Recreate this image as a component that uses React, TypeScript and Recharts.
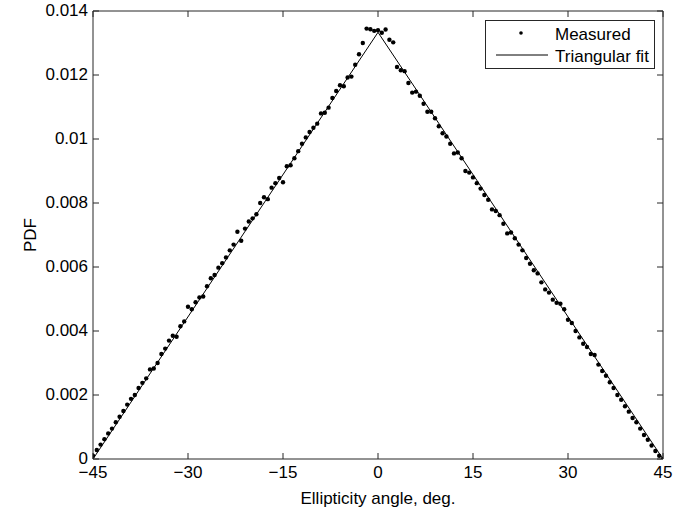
import { ComposedChart, Scatter, Line, XAxis, YAxis, Legend } from "recharts"

// ellipticity angle bins (deg.)
const angles = [
    -45, -44.4, -43.8, -43.2, -42.6, -42, -41.4, -40.8, -40.2, -39.6,
    -39, -38.4, -37.8, -37.2, -36.6, -36, -35.4, -34.8, -34.2, -33.6,
    -33, -32.4, -31.8, -31.2, -30.6, -30, -29.4, -28.8, -28.2, -27.6,
    -27, -26.4, -25.8, -25.2, -24.6, -24, -23.4, -22.8, -22.2, -21.6,
    -21, -20.4, -19.8, -19.2, -18.6, -18, -17.4, -16.8, -16.2, -15.6,
    -15, -14.4, -13.8, -13.2, -12.6, -12, -11.4, -10.8, -10.2, -9.6,
    -9, -8.4, -7.8, -7.2, -6.6, -6, -5.4, -4.8, -4.2, -3.6,
    -3, -2.4, -1.8, -1.2, -0.6, 0,
    0.6, 1.2, 1.8, 2.4, 3, 3.6, 4.2, 4.8, 5.4, 6,
    6.6, 7.2, 7.8, 8.4, 9, 9.6, 10.2, 10.8, 11.4, 12,
    12.6, 13.2, 13.8, 14.4, 15, 15.6, 16.2, 16.8, 17.4, 18,
    18.6, 19.2, 19.8, 20.4, 21, 21.6, 22.2, 22.8, 23.4, 24,
    24.6, 25.2, 25.8, 26.4, 27, 27.6, 28.2, 28.8, 29.4, 30,
    30.6, 31.2, 31.8, 32.4, 33, 33.6, 34.2, 34.8, 35.4, 36,
    36.6, 37.2, 37.8, 38.4, 39, 39.6, 40.2, 40.8, 41.4, 42,
    42.6, 43.2, 43.8, 44.4, 45,
]

// measured PDF per bin
const measured = [
    0.0001, 0.00028, 0.00045, 0.00062, 0.0008, 0.00095, 0.00115, 0.00132, 0.0015, 0.0017,
    0.00188, 0.002, 0.00222, 0.00238, 0.00252, 0.0028, 0.00283, 0.003, 0.00328, 0.00345,
    0.0037, 0.00385, 0.00382, 0.00415, 0.0043, 0.00476, 0.00468, 0.0049, 0.00505, 0.00508,
    0.0054, 0.00565, 0.00575, 0.00598, 0.00612, 0.0063, 0.00652, 0.0067, 0.0071, 0.00682,
    0.0072, 0.00742, 0.00752, 0.00765, 0.008, 0.00818, 0.00812, 0.00848, 0.00862, 0.00878,
    0.00865, 0.00915, 0.00918, 0.0094, 0.00962, 0.00985, 0.01005, 0.01022, 0.01035, 0.01048,
    0.0108, 0.01082, 0.01098, 0.01128, 0.0115, 0.01168, 0.01165, 0.01192, 0.01195, 0.01232,
    0.01265, 0.013, 0.01345, 0.01343, 0.01338, 0.0134,
    0.01332, 0.01342, 0.0131, 0.01302, 0.01225, 0.01215, 0.01212, 0.01175, 0.01145, 0.01148,
    0.01135, 0.0111, 0.01085, 0.01085, 0.01065, 0.0104, 0.01018, 0.01008, 0.00985, 0.00955,
    0.00958, 0.0094, 0.009, 0.00895, 0.0088, 0.00862, 0.00845, 0.00825, 0.0081, 0.0078,
    0.00775, 0.00762, 0.00735, 0.00705, 0.00708, 0.0069, 0.0067, 0.00652, 0.00628, 0.0061,
    0.0059, 0.0058, 0.00552, 0.0053, 0.0052, 0.00498, 0.00488, 0.00485, 0.00468, 0.00435,
    0.00425, 0.004, 0.0038, 0.0036, 0.0035, 0.00328, 0.00325, 0.00295, 0.00275, 0.0026,
    0.0024, 0.00222, 0.002, 0.00185, 0.00165, 0.00148, 0.00128, 0.00115, 0.00095, 0.00075,
    0.0006, 0.00042, 0.00025, 0.0001, 0,
]

// triangular fit corners
const fitAngles = [-45, 0, 45]
const fitValues = [0, 0.013333, 0]

const xTicks = [-45, -30, -15, 0, 15, 30, 45]
const yTicks = [0, 0.002, 0.004, 0.006, 0.008, 0.01, 0.012, 0.014]

const FONT = "'Liberation Sans', Arial, Helvetica, sans-serif"
const AXIS = "#262626"
const TICK_LEN = 6

const fmtX = (v: number) => (v < 0 ? "\u2212" + Math.abs(v) : String(v))
const fmtY = (v: number) => (v === 0 ? "0" : String(Number(v.toFixed(3))))

function makeTick(side: "bottom" | "top" | "left" | "right") {
    return (props: any) => {
        const { x, y, payload } = props
        if (side === "bottom") {
            return (
                <g>
                    <line x1={x} x2={x} y1={y} y2={y - TICK_LEN} stroke={AXIS} />
                    <text x={x} y={y + 19} textAnchor="middle" fontSize={17} fontFamily={FONT} fill="#000">
                        {fmtX(payload.value)}
                    </text>
                </g>
            )
        }
        if (side === "top") {
            return <line x1={x} x2={x} y1={y} y2={y + TICK_LEN} stroke={AXIS} />
        }
        if (side === "left") {
            return (
                <g>
                    <line x1={x} x2={x + TICK_LEN} y1={y} y2={y} stroke={AXIS} />
                    <text x={x - 5} y={y + 5} textAnchor="end" fontSize={17} fontFamily={FONT} fill="#000">
                        {fmtY(payload.value)}
                    </text>
                </g>
            )
        }
        return <line x1={x} x2={x - TICK_LEN} y1={y} y2={y} stroke={AXIS} />
    }
}

function LegendBox() {
    return (
        <svg width={170} height={49} style={{ display: "block" }}>
            <rect x={0.5} y={0.5} width={169} height={48} fill="#fff" stroke={AXIS} />
            <circle cx={36} cy={13} r={1.8} fill="#000" />
            <text x={70} y={20} fontSize={17} fontFamily={FONT} fill="#000">Measured</text>
            <line x1={11} x2={63} y1={35} y2={35} stroke="#000" />
            <text x={70} y={42} fontSize={17} fontFamily={FONT} fill="#000">Triangular fit</text>
        </svg>
    )
}

export default function App() {
    const points = angles.map((a, i) => ({ x: a, y: measured[i] }))
    const fit = fitAngles.map((a, i) => ({ x: a, y: fitValues[i] }))

    return (
        <div style={{ position: "absolute", left: 0, top: 0, width: 698, height: 512, background: "#fff" }}>
            <ComposedChart width={698} height={512} margin={{ top: 10, right: 34, left: 33, bottom: 13 }}>
                <XAxis
                    dataKey="x"
                    type="number"
                    domain={[-45, 45]}
                    ticks={xTicks}
                    allowDataOverflow
                    height={40}
                    stroke={AXIS}
                    tickSize={0}
                    tickMargin={0}
                    tickLine={false}
                    tick={makeTick("bottom")}
                    interval={0}
                    label={{
                        content: () => (
                            <text x={378} y={504} textAnchor="middle" fontSize={17} fontFamily={FONT} fill="#000">
                                Ellipticity angle, deg.
                            </text>
                        ),
                    }}
                />
                <XAxis
                    xAxisId="top"
                    orientation="top"
                    dataKey="x"
                    type="number"
                    domain={[-45, 45]}
                    ticks={xTicks}
                    allowDataOverflow
                    height={1}
                    stroke={AXIS}
                    tickSize={0}
                    tickMargin={0}
                    tickLine={false}
                    tick={makeTick("top")}
                    interval={0}
                />
                <YAxis
                    type="number"
                    domain={[0, 0.014]}
                    ticks={yTicks}
                    allowDataOverflow
                    width={60}
                    stroke={AXIS}
                    tickSize={0}
                    tickMargin={0}
                    tickLine={false}
                    tick={makeTick("left")}
                    interval={0}
                    label={{
                        content: () => (
                            <text
                                x={36}
                                y={235}
                                transform="rotate(-90 36 235)"
                                textAnchor="middle"
                                fontSize={17}
                                fontFamily={FONT}
                                fill="#000"
                            >
                                PDF
                            </text>
                        ),
                    }}
                />
                <YAxis
                    yAxisId="right"
                    orientation="right"
                    type="number"
                    domain={[0, 0.014]}
                    ticks={yTicks}
                    allowDataOverflow
                    width={1}
                    stroke={AXIS}
                    tickSize={0}
                    tickMargin={0}
                    tickLine={false}
                    tick={makeTick("right")}
                    interval={0}
                />
                <Legend
                    layout="vertical"
                    align="center"
                    verticalAlign="middle"
                    content={() => <LegendBox />}
                    wrapperStyle={{ position: "absolute", left: 485, top: 20, width: 170, height: 49 }}
                />
                <Line
                    data={fit}
                    xAxisId="top"
                    yAxisId="right"
                    dataKey="y"
                    type="linear"
                    stroke="#000"
                    strokeWidth={1}
                    dot={false}
                    isAnimationActive={false}
                    name="Triangular fit"
                />
                <Scatter
                    data={points}
                    dataKey="y"
                    fill="#000"
                    name="Measured"
                    isAnimationActive={false}
                    shape={(p: any) => <circle cx={p.cx} cy={p.cy} r={2.2} fill="#000" />}
                />
            </ComposedChart>
        </div>
    )
}
